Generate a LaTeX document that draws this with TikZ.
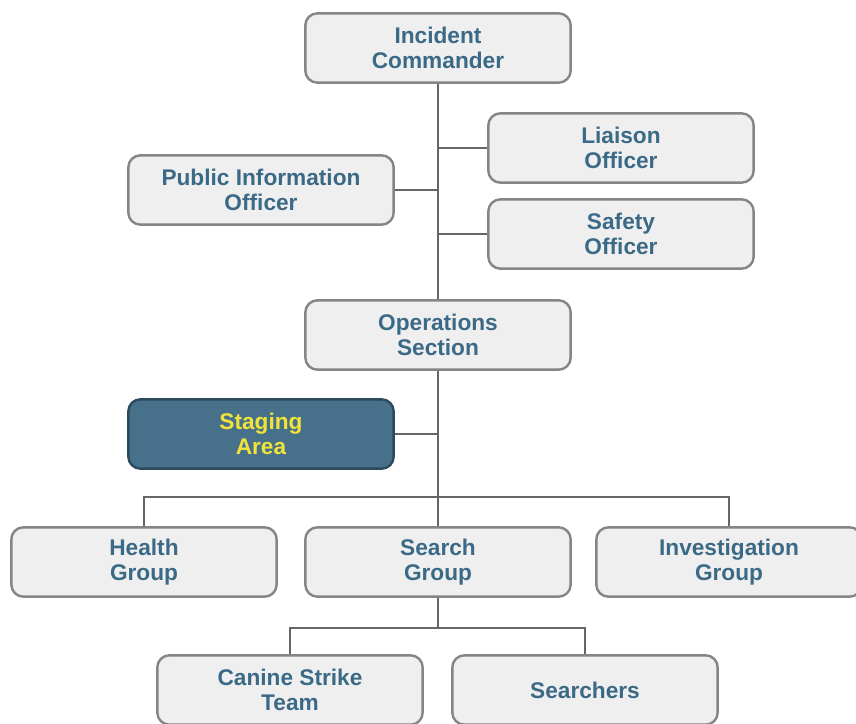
\documentclass[tikz,border=0pt]{standalone}
\usepackage{fontspec}
\setmainfont{Liberation Sans}
\usepackage{tikz}
\usetikzlibrary{positioning}
\definecolor{boxtext}{HTML}{3B6A87}
\definecolor{boxfill}{HTML}{EFEFEF}
\definecolor{boxline}{HTML}{858585}
\definecolor{stagefill}{HTML}{47718A}
\definecolor{stageline}{HTML}{2C4A5C}
\definecolor{stagetext}{HTML}{F2E33B}
\tikzset{
    %Define style for boxes
    unit/.style={
           rectangle,
           rounded corners=9pt,
           draw=boxline, line width=1.8pt,
           fill=boxfill,
           minimum width=199pt,
           minimum height=52pt,
           align=center,
           text=boxtext,
           font=\fontsize{17}{18.8}\selectfont\bfseries},
    staging/.style={
           unit,
           draw=stageline,
           fill=stagefill,
           text=stagetext},
    % Define line style
    link/.style={
           draw=black!60,
           line width=0.8pt}
}
\begin{document}
\begin{tikzpicture}[x=0.75pt,y=-0.75pt]
\useasboundingbox[fill=white] (0,0) rectangle (856,724);

 %nodes
\node[unit](ic) at (438,48){Incident\\Commander};
\node[unit](liaison) at (621,148){Liaison\\Officer};
\node[unit](pio) at (261,190){Public Information\\Officer};
\node[unit](safety) at (621,234){Safety\\Officer};
\node[unit](ops) at (438,335){Operations\\Section};
\node[staging](stage) at (261,434){Staging\\Area};
\node[unit](health) at (144,562){Health\\Group};
\node[unit](search) at (438,562){Search\\Group};
\node[unit](invest) at (729,562){Investigation\\Group};
\node[unit](canine) at (290,690){Canine Strike\\Team};
\node[unit](searchers) at (585,690){Searchers};

\coordinate (gsplit) at (438,497);
\coordinate (tsplit) at (438,628);

 %links
\path[link]
    (ic) -- (ops)
    (liaison.west) -- (liaison.west -| ic)
    (pio.east) -- (pio.east -| ic)
    (safety.west) -- (safety.west -| ic)
    (stage.east) -- (stage.east -| ops)
    (ops) -- (search)
    (health.north) |- (gsplit)
    (invest.north) |- (gsplit)
    (search) -- (tsplit)
    (canine.north) |- (tsplit)
    (searchers.north) |- (tsplit);

\end{tikzpicture}
\end{document}
